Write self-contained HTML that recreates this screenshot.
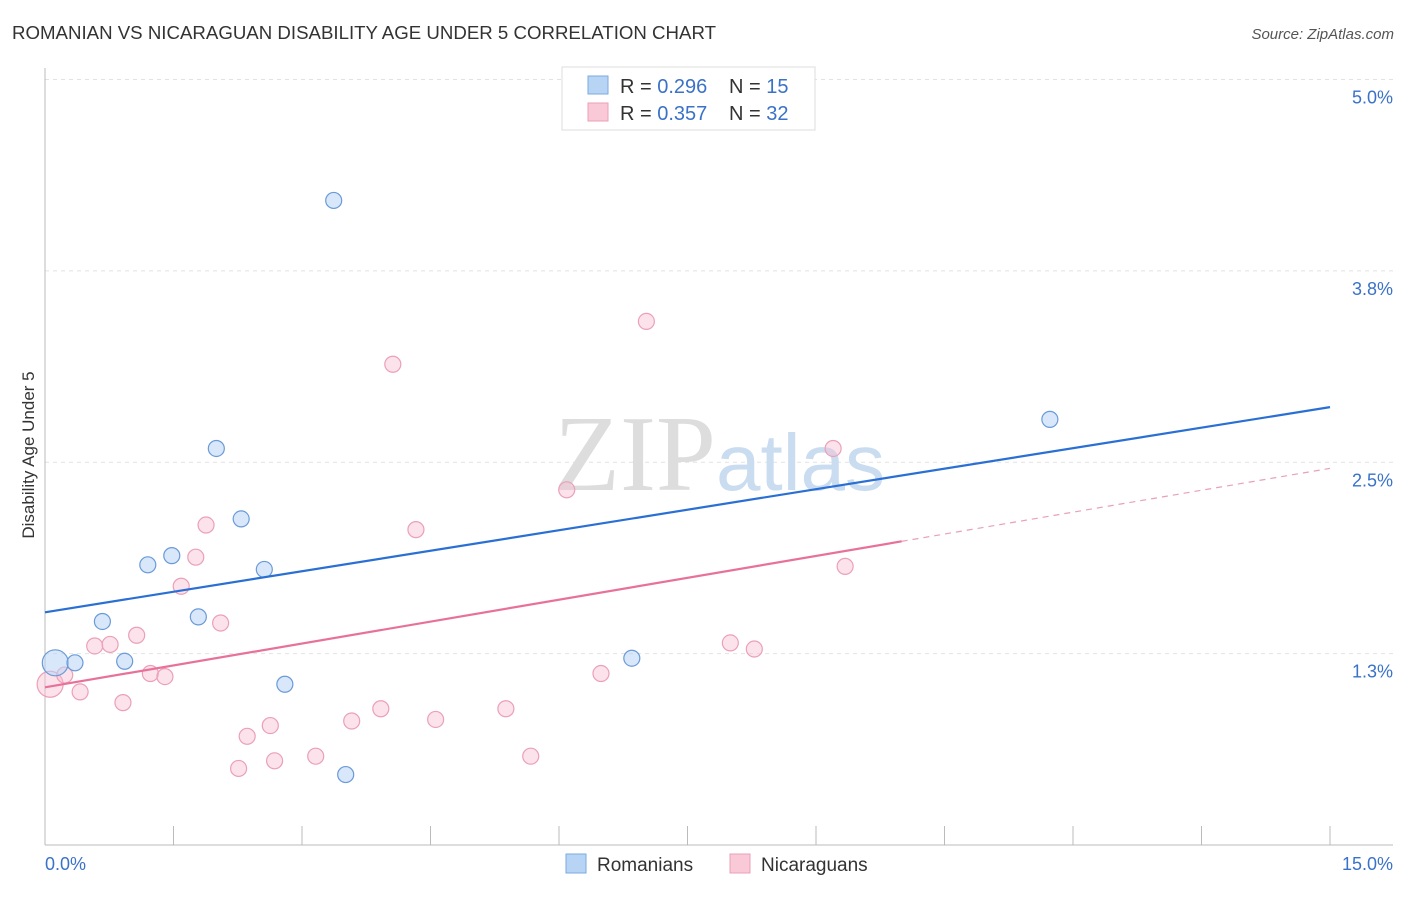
<!DOCTYPE html>
<html><head><meta charset="utf-8"><style>
body{margin:0;background:#fff;font-family:"Liberation Sans",sans-serif;}
</style></head><body>
<svg width="1406" height="892" xmlns="http://www.w3.org/2000/svg" font-family="Liberation Sans, sans-serif">
<text x="12" y="39" font-size="18" fill="#333" textLength="704" lengthAdjust="spacingAndGlyphs">ROMANIAN VS NICARAGUAN DISABILITY AGE UNDER 5 CORRELATION CHART</text>
<text x="1394" y="39" font-size="15" fill="#555" font-style="italic" text-anchor="end">Source: ZipAtlas.com</text>
<g id="grid"></g>
<text x="716" y="490" font-size="108" fill="#ddd" text-anchor="end" font-family="Liberation Serif, serif">ZIP</text>
<text x="716" y="490" font-size="80" fill="#c9dcf0">atlas</text>
<g id="marks"></g>
<text x="34" y="455" font-size="17" fill="#333" text-anchor="middle" transform="rotate(-90 34 455)">Disability Age Under 5</text>
<g>
<rect x="562" y="67" width="253" height="63" fill="#fff" stroke="#ddd"/>
<rect x="588" y="76" width="20" height="18" fill="#b8d4f5" stroke="#7aaae0"/>
<text x="620" y="93" font-size="20" fill="#333">R = <tspan fill="#3a72c8">0.296</tspan></text>
<text x="729" y="93" font-size="20" fill="#333">N =  <tspan fill="#3a72c8">15</tspan></text>
<rect x="588" y="103" width="20" height="18" fill="#f9c9d7" stroke="#eba0b7"/>
<text x="620" y="120" font-size="20" fill="#333">R = <tspan fill="#3a72c8">0.357</tspan></text>
<text x="729" y="120" font-size="20" fill="#333">N =  <tspan fill="#3a72c8">32</tspan></text>
</g>
<g>
<rect x="566" y="854" width="20" height="19" fill="#b8d4f5" stroke="#7aaae0"/>
<text x="597" y="871" font-size="19" fill="#333">Romanians</text>
<rect x="730" y="854" width="20" height="19" fill="#f9c9d7" stroke="#eba0b7"/>
<text x="761" y="871" font-size="19" fill="#333">Nicaraguans</text>
</g>
</svg>
<script>
const yTicks=[1.25,2.5,3.75,5.0];
const yTickLabels=["1.3%","2.5%","3.8%","5.0%"];
const xTicks=[0,1.5,3,4.5,6,7.5,9,10.5,12,13.5,15];
const romX=[0.12,0.35,0.67,0.93,1.20,1.48,1.79,2.0,2.29,2.56,2.80,3.37,3.51,6.85,11.73];
const romY=[1.19,1.19,1.46,1.20,1.83,1.89,1.49,2.59,2.13,1.80,1.05,4.21,0.46,1.22,2.78];
const nicX=[0.06,0.23,0.41,0.58,0.76,0.91,1.07,1.23,1.40,1.59,1.76,1.88,2.05,2.26,2.36,2.63,2.68,3.16,3.58,3.92,4.06,4.33,4.56,5.38,5.67,6.09,6.49,7.02,8.0,8.28,9.2,9.34];
const nicY=[1.05,1.11,1.0,1.30,1.31,0.93,1.37,1.12,1.10,1.69,1.88,2.09,1.45,0.50,0.71,0.78,0.55,0.58,0.81,0.89,3.14,2.06,0.82,0.89,0.58,2.32,1.12,3.42,1.32,1.28,2.59,1.82];
const romTrend=[1.52,2.86];
const nicTrend=[1.03,2.46];
const nicSolidEnd=10.0;
const NS="http://www.w3.org/2000/svg";
const sx=v=>45+v*(1285/15);
const sy=v=>845-v*153.1;
function mk(t,a,p){const e=document.createElementNS(NS,t);for(const k in a)e.setAttribute(k,a[k]);p.appendChild(e);return e;}
const grid=document.getElementById('grid'),marks=document.getElementById('marks');
yTicks.forEach((t,i)=>{
 const l=mk('line',{x1:45,x2:1393,y1:sy(t),y2:sy(t),stroke:'#e2e2e2','stroke-dasharray':'4,4'},grid);
 
 
 const tx=mk('text',{x:1393,y:sy(t)+24,'font-size':18,fill:'#3a72c8','text-anchor':'end'},grid);
 tx.textContent=yTickLabels[i];
 
 
});
const ya=mk('line',{x1:45,x2:45,y1:68,y2:845,stroke:'#bbb'},grid);


const xa=mk('line',{x1:45,x2:1393,y1:845,y2:845,stroke:'#bbb'},grid);


xTicks.forEach(t=>{
 const l=mk('line',{x1:sx(t),x2:sx(t),y1:826,y2:845,stroke:'#bbb'},grid);
 
 
});
[[0,'0.0%','start',45],[15,'15.0%','end',1393]].forEach(d=>{
 const tx=mk('text',{x:d[3],y:870,'font-size':18,fill:'#3a72c8','text-anchor':d[2]},grid);
 tx.textContent=d[1];
 
 
});
nicX.forEach((x,i)=>{
 const c=mk('circle',{cx:sx(x),cy:sy(nicY[i]),r:i==0?13:8,fill:'rgba(249,190,210,0.45)',stroke:'#eba0b7','stroke-width':1.2},marks);
 
 
});
romX.forEach((x,i)=>{
 const c=mk('circle',{cx:sx(x),cy:sy(romY[i]),r:i==0?13:8,fill:'rgba(184,212,245,0.55)',stroke:'#6a9ad8','stroke-width':1.2},marks);
 
 
});
const nf=x=>nicTrend[0]+(nicTrend[1]-nicTrend[0])*x/15;
const t1=mk('line',{x1:sx(0),y1:sy(romTrend[0]),x2:sx(15),y2:sy(romTrend[1]),stroke:'#2a6fd4','stroke-width':2.2},marks);


const t2=mk('line',{x1:sx(0),y1:sy(nf(0)),x2:sx(nicSolidEnd),y2:sy(nf(nicSolidEnd)),stroke:'#e8719a','stroke-width':2.2},marks);


const t3=mk('line',{x1:sx(nicSolidEnd),y1:sy(nf(nicSolidEnd)),x2:sx(15),y2:sy(nf(15)),stroke:'#e8a0b8','stroke-width':1.2,'stroke-dasharray':'6,5'},marks);


</script>
</body></html>
